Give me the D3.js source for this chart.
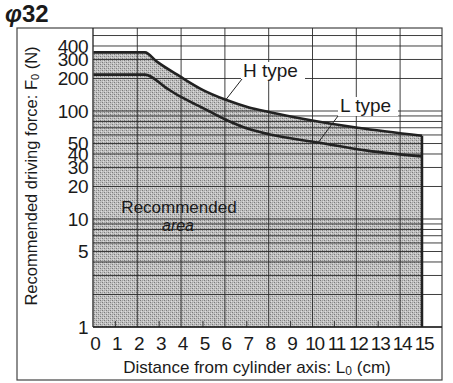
<!DOCTYPE html>
<html>
<head>
<meta charset="utf-8">
<script src="https://cdn.jsdelivr.net/npm/d3@7"></script>
<style>
body{margin:0;background:#fff}
text{font-family:"Liberation Sans",Arial,sans-serif;fill:#1a1a1a}
</style>
</head>
<body>
<svg width="453" height="383"></svg>
<script>
const hDist = [0, 2.35, 2.88, 3.93, 4.98, 6.04, 7.1, 8.0, 9.8, 12.07, 15]
const hForce = [349, 349, 288, 210, 157, 127, 108, 98, 83, 70, 59]
const lDist = [0, 2.35, 3.33, 3.93, 4.98, 6.04, 7.1, 8.0, 10.26, 12.5, 15]
const lForce = [217, 217, 163, 137, 107, 83, 68, 61, 51, 43, 38]
const xTicks = [0,1,2,3,4,5,6,7,8,9,10,11,12,13,14,15]
const yTicks = [1,5,10,20,30,40,50,100,200,300,400]

const svg = d3.select('svg')
const pLeft = 93, pRight = 442, pTop = 28, pBottom = 327

const x = d3.scaleLinear().domain([0,15]).range([93.5, 422])
const y = d3.scaleLog().domain([1,587]).range([pBottom, pTop])

// halftone look
const pat = svg.append('defs').append('pattern')
  .attr('id','dots').attr('width',4).attr('height',4)
  .attr('patternUnits','userSpaceOnUse')
pat.append('rect').attr('width',4).attr('height',4).attr('fill','#c2c2c2')
;[[0,0,'#7a7a7a'],[2,2,'#7a7a7a'],[2,0,'#a0a0a0'],[0,2,'#a0a0a0'],[1,3,'#dcdcdc'],[3,1,'#dcdcdc']].forEach(p=>{
  pat.append('rect').attr('x',p[0]).attr('y',p[1]).attr('width',1).attr('height',1).attr('fill',p[2])
})

// outer box
svg.append('rect').attr('x',17).attr('y',pTop).attr('width',pRight-17).attr('height',380-pTop)
  .attr('fill','none').attr('stroke','#444').attr('stroke-width',1.2)

// recommended area
const areaGen = d3.area().x((d,i)=>x(hDist[i])).y0(y(1)).y1(d=>y(d)).curve(d3.curveMonotoneX)
svg.append('path').datum(hForce).attr('d',areaGen).attr('fill','url(#dots)')

// grid
const minor = []
;[1,10,100].forEach(dec=>d3.range(1,10).forEach(k=>{ if(k*dec<=587) minor.push(k*dec) }))
svg.append('g').selectAll('line').data(minor).join('line')
  .attr('x1',pLeft).attr('x2',pRight)
  .attr('y1',d=>y(d)).attr('y2',d=>y(d))
  .attr('stroke','#2a2a2a').attr('stroke-width',0.9)

svg.append('g').selectAll('line').data(xTicks.filter(d=>d%2==0 && d>0)).join('line')
  .attr('x1',d=>x(d)).attr('x2',d=>x(d)).attr('y1',pTop).attr('y2',pBottom)
  .attr('stroke','#2a2a2a').attr('stroke-width',0.9)

svg.append('g').selectAll('line').data(xTicks.filter(d=>d%2==1)).join('line')
  .attr('x1',d=>x(d)).attr('x2',d=>x(d)).attr('y1',pBottom-6).attr('y2',pBottom)
  .attr('stroke','#2a2a2a').attr('stroke-width',0.9)

// frame of plot
svg.append('line').attr('x1',pLeft).attr('x2',pLeft).attr('y1',pTop).attr('y2',pBottom).attr('stroke','#222').attr('stroke-width',1.3)
svg.append('line').attr('x1',pLeft).attr('x2',pRight).attr('y1',pBottom).attr('y2',pBottom).attr('stroke','#222').attr('stroke-width',1.3)
svg.append('line').attr('x1',x(15)).attr('x2',x(15)).attr('y1',y(hForce[hForce.length-1])).attr('y2',pBottom).attr('stroke','#222').attr('stroke-width',2.5)

// curves
const hLine = d3.line().x((d,i)=>x(hDist[i])).y(d=>y(d)).curve(d3.curveMonotoneX)
const lLine = d3.line().x((d,i)=>x(lDist[i])).y(d=>y(d)).curve(d3.curveMonotoneX)
svg.append('path').datum(hForce).attr('d',hLine).attr('fill','none').attr('stroke','#222').attr('stroke-width',2.6)
svg.append('path').datum(lForce).attr('d',lLine).attr('fill','none').attr('stroke','#222').attr('stroke-width',2.6)

// curve labels
function callout(tx, ty, w, label, lx1, ly1, lx2, ly2){
  svg.append('rect').attr('x',tx-2).attr('y',ty-15).attr('width',w).attr('height',19).attr('fill','#fff')
  svg.append('text').attr('x',tx).attr('y',ty).attr('font-size',19).text(label)
  svg.append('line').attr('x1',lx1).attr('y1',ly1).attr('x2',lx2).attr('y2',ly2).attr('stroke','#222').attr('stroke-width',1)
}
callout(243, 77, 64, 'H type', 242, 79, x(6.04), y(127))
callout(340, 112, 60, 'L type', 338, 116, x(10.26), y(51))

svg.append('text').attr('x',179).attr('y',213).attr('text-anchor','middle').attr('font-size',17).text('Recommended')
svg.append('text').attr('x',178).attr('y',231).attr('text-anchor','middle').attr('font-size',16).attr('font-style','italic').text('area')

// tick labels
svg.append('g').selectAll('text').data(yTicks).join('text')
  .attr('x',88).attr('y',d=>y(d)).attr('dy','0.36em').attr('text-anchor','end')
  .attr('font-size',19).attr('letter-spacing',-0.5).text(d=>d)

svg.append('g').selectAll('text').data(xTicks).join('text')
  .attr('x',d=>x(d)+2).attr('y',350).attr('text-anchor','middle')
  .attr('font-size',19).attr('letter-spacing',d=>d>=10?-1.2:0).text(d=>d)

// axis titles
const xt = svg.append('text').attr('x',257).attr('y',373).attr('text-anchor','middle').attr('font-size',17)
xt.append('tspan').text('Distance from cylinder axis: L')
xt.append('tspan').attr('font-size',12).attr('dy',2).text('0')
xt.append('tspan').attr('dy',-2).text(' (cm)')

const yt = svg.append('text').attr('transform','translate(37,176) rotate(-90)').attr('text-anchor','middle').attr('font-size',16.5)
yt.append('tspan').text('Recommended driving force: F')
yt.append('tspan').attr('font-size',11).attr('dy',2).text('0')
yt.append('tspan').attr('dy',-2).text(' (N)')

// title
const t = svg.append('text').attr('x',5).attr('y',22).attr('font-size',24).attr('font-weight','bold')
t.append('tspan').attr('font-style','italic').text('φ')
t.append('tspan').text('32')
</script>
</body>
</html>
